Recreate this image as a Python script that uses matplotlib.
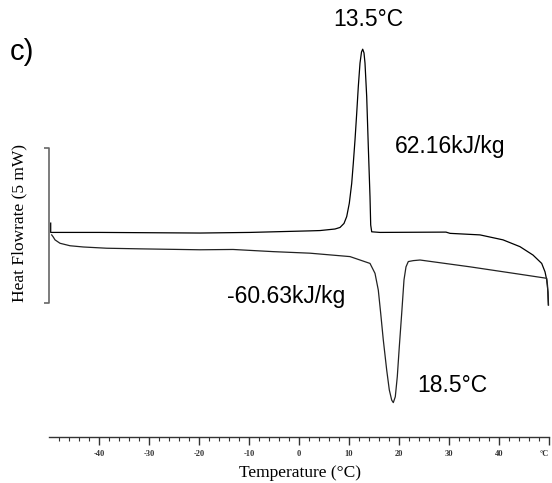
import matplotlib.pyplot as plt
from matplotlib.ticker import FixedLocator

# DSC scan: heating/cooling traces, temperature in degC, heat flow in mW
exo_temp = [-49.66, -49.66, -39.8, -19.8, -9.8, 2.2, 4.2, 7.2, 8.2, 9.0, 9.54, 10.06,
            10.54, 10.86, 11.2, 11.54, 11.86, 12.2, 12.5, 12.74, 13.0, 13.2, 13.54,
            13.86, 14.2, 14.34, 14.54, 16.2, 29.4, 30.2, 36.2, 40.8, 44.2, 46.8, 48.54,
            49.2, 49.54, 49.8, 49.9]
exo_flow = [2.48, 2.18, 2.18, 2.16, 2.18, 2.23, 2.24, 2.29, 2.34, 2.47, 2.69, 3.12,
            3.76, 4.41, 5.16, 6.02, 6.88, 7.64, 8.0, 8.09, 7.97, 7.64, 6.56,
            4.95, 3.33, 2.42, 2.20, 2.18, 2.19, 2.15, 2.10, 1.94, 1.72, 1.45, 1.18,
            0.91, 0.65, 0.26, -0.16]

endo_temp = [-49.46, -49.14, -48.8, -47.8, -45.8, -43.14, -38.46, -31.8, -19.8, -13.2,
             -5.14, 2.2, 10.2, 12.2, 14.2, 15.2, 15.86, 16.34, 16.86, 17.54, 18.06,
             18.54, 18.86, 19.26, 19.66, 20.06, 20.54, 21.0, 21.4, 21.86, 22.86, 24.2,
             34.2, 44.2, 49.54, 49.7, 49.86]
endo_flow = [2.10, 2.03, 1.94, 1.83, 1.75, 1.71, 1.67, 1.65, 1.62, 1.63,
             1.56, 1.51, 1.40, 1.29, 1.18, 0.86, 0.32, -0.43, -1.29, -2.26, -2.90,
             -3.23, -3.31, -3.12, -2.47, -1.51, -0.43, 0.65, 1.07, 1.24, 1.27, 1.29,
             1.07, 0.83, 0.70, 0.48, -0.16]

major_ticks = [-40, -30, -20, -10, 0, 10, 20, 30, 40, 50]
minor_ticks = [t for t in range(-48, 50, 2) if t % 10 != 0]
tick_labels = ['-40', '-30', '-20', '-10', '0', '10', '20', '30', '40', '°C']

# 5 mW scale bar
bar_x = -50
bar_lo, bar_hi = -0.1, 4.9

fig = plt.figure(figsize=(5.52, 4.83), dpi=100)
ax = fig.add_axes([0, 0, 1, 1])
ax.set_xlim(-59.8, 50.6)
ax.set_ylim(-5.903, 9.677)

ax.plot(exo_temp, exo_flow, color='black', lw=0.9)
ax.plot(endo_temp, endo_flow, color='#222222', lw=0.9)

# scale bar, bracket shaped
ax.plot([bar_x - 1, bar_x, bar_x, bar_x - 1], [bar_hi, bar_hi, bar_lo, bar_lo],
        color='#666666', lw=1.2, solid_capstyle='butt')

# temperature axis
for s in ['top', 'right', 'left']:
    ax.spines[s].set_visible(False)
ax.spines['bottom'].set_position(('data', -4.42))
ax.spines['bottom'].set_bounds(-50, 50)
ax.spines['bottom'].set_color('#333333')
ax.spines['bottom'].set_linewidth(1.0)
ax.xaxis.set_major_locator(FixedLocator(major_ticks))
ax.xaxis.set_minor_locator(FixedLocator(minor_ticks))
ax.set_xticklabels(tick_labels, family='Liberation Serif', fontsize=6,
                   fontweight='bold', color='#333333')
ax.get_xticklabels()[-1].set_ha('right')  # unit label sits on the right edge
ax.tick_params(axis='x', which='major', direction='out', length=6, width=1.0,
               color='#333333', pad=3)
ax.tick_params(axis='x', which='minor', direction='out', length=3, width=0.8,
               color='#333333')
ax.set_yticks([])

ax.text(0.5435, 0.021, 'Temperature (°C)', transform=ax.transAxes,
        family='Liberation Serif', fontsize=12.5, ha='center', va='center')
ax.text(0.036, 0.538, 'Heat Flowrate (5 mW)', transform=ax.transAxes,
        family='Liberation Serif', fontsize=12.5, ha='center', va='center',
        rotation=90)

sans = 'Liberation Sans'
ax.text(22 / 552, 1 - 52 / 483, 'c)', transform=ax.transAxes, family=sans,
        fontsize=21, ha='center', va='center')
ax.text(368 / 552, 1 - 19 / 483, '13.5°C', transform=ax.transAxes, family=sans,
        fontsize=16.5, ha='center', va='center')
ax.text(450 / 552, 1 - 147 / 483, '62.16kJ/kg', transform=ax.transAxes, family=sans,
        fontsize=16.5, ha='center', va='center')
ax.text(286 / 552, 1 - 297 / 483, '-60.63kJ/kg', transform=ax.transAxes, family=sans,
        fontsize=16.5, ha='center', va='center')
ax.text(452 / 552, 1 - 386 / 483, '18.5°C', transform=ax.transAxes, family=sans,
        fontsize=16.5, ha='center', va='center')

fig.savefig('out.png', dpi=100)
